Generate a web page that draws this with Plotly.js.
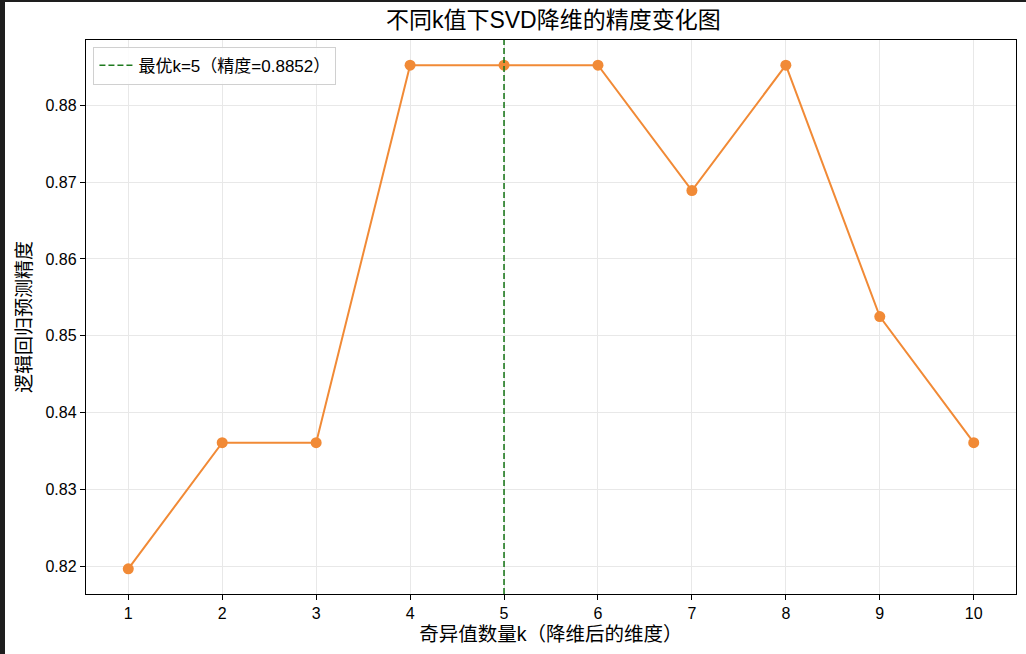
<!DOCTYPE html>
<html>
<head>
<meta charset="utf-8">
<script src="https://cdn.plot.ly/plotly-3.0.1.min.js"></script>
<style>
  html, body { margin: 0; padding: 0; background: #1e1e1e; width: 1026px; height: 654px; overflow: hidden; }
  #chart { position: absolute; left: 5px; top: 2px; width: 1021px; height: 652px; background: #fff; }
</style>
</head>
<body>
<div id="chart"></div>
<script>
const kValues = [1, 2, 3, 4, 5, 6, 7, 8, 9, 10];
const accuracy = [0.8197, 0.8361, 0.8361, 0.8852, 0.8852, 0.8852, 0.8689, 0.8852, 0.8525, 0.8361];
const bestK = 5;
const bestAcc = 0.8852;
const titleText = '不同k值下SVD降维的精度变化图';
const xTitle = '奇异值数量k（降维后的维度）';
const yTitle = '逻辑回归预测精度';
const yTicks = [0.82, 0.83, 0.84, 0.85, 0.86, 0.87, 0.88];

const font = '"Liberation Sans", Arial, "Noto Sans CJK SC", sans-serif';

const yMin = Math.min(...accuracy), yMax = Math.max(...accuracy);
const yPad = (yMax - yMin) * 0.05;
const xPad = (kValues[kValues.length - 1] - kValues[0]) * 0.05;

const trace = {
  x: kValues, y: accuracy, type: 'scatter', mode: 'lines+markers',
  line: { color: '#f18a36', width: 2 },
  marker: { color: '#f18a36', size: 11 },
  showlegend: false, hoverinfo: 'skip'
};

const layout = {
  width: 1021, height: 652,
  margin: { l: 81, r: 10, t: 38, b: 60 },
  paper_bgcolor: '#ffffff', plot_bgcolor: '#ffffff',
  font: { family: font, color: '#000', size: 14 },
  title: { text: titleText, x: 0.537, xanchor: 'center', y: 0.973, yanchor: 'middle', font: { size: 23, family: font } },
  xaxis: {
    range: [kValues[0] - xPad, kValues[kValues.length - 1] + xPad],
    tickmode: 'array', tickvals: kValues, ticktext: kValues.map(String),
    ticks: 'outside', ticklen: 5, tickcolor: '#000', tickwidth: 1,
    showline: true, linecolor: '#000', linewidth: 1.2, mirror: true,
    showgrid: true, gridcolor: '#e8e8e8', gridwidth: 1, zeroline: false,
    tickfont: { size: 16, family: font },
    title: { text: xTitle, font: { size: 19.5, family: font }, standoff: 6 }
  },
  yaxis: {
    range: [yMin - yPad, yMax + yPad],
    tickmode: 'array', tickvals: yTicks, ticktext: yTicks.map(v => v.toFixed(2)),
    ticks: 'outside', ticklen: 5, tickcolor: '#000', tickwidth: 1,
    showline: true, linecolor: '#000', linewidth: 1.2, mirror: true,
    showgrid: true, gridcolor: '#e8e8e8', gridwidth: 1, zeroline: false,
    tickfont: { size: 16, family: font },
    title: { text: yTitle, font: { size: 19, family: font }, standoff: 8 }
  },
  shapes: [{
    type: 'line', xref: 'x', yref: 'paper', x0: bestK, x1: bestK, y0: 0, y1: 1,
    line: { color: '#1f7a1f', width: 1.6, dash: '6px,3px' },
    showlegend: true, name: '最优k=' + bestK + '（精度=' + bestAcc.toFixed(4) + '）'
  }],
  showlegend: true,
  legend: {
    x: 0.008, y: 0.988, xanchor: 'left', yanchor: 'top',
    bgcolor: 'rgba(255,255,255,0.85)', bordercolor: '#d0d0d0', borderwidth: 1,
    font: { size: 17, family: font }, itemwidth: 34
  }
};

Plotly.newPlot('chart', [trace], layout, { displayModeBar: false, staticPlot: true });
</script>
</body>
</html>
